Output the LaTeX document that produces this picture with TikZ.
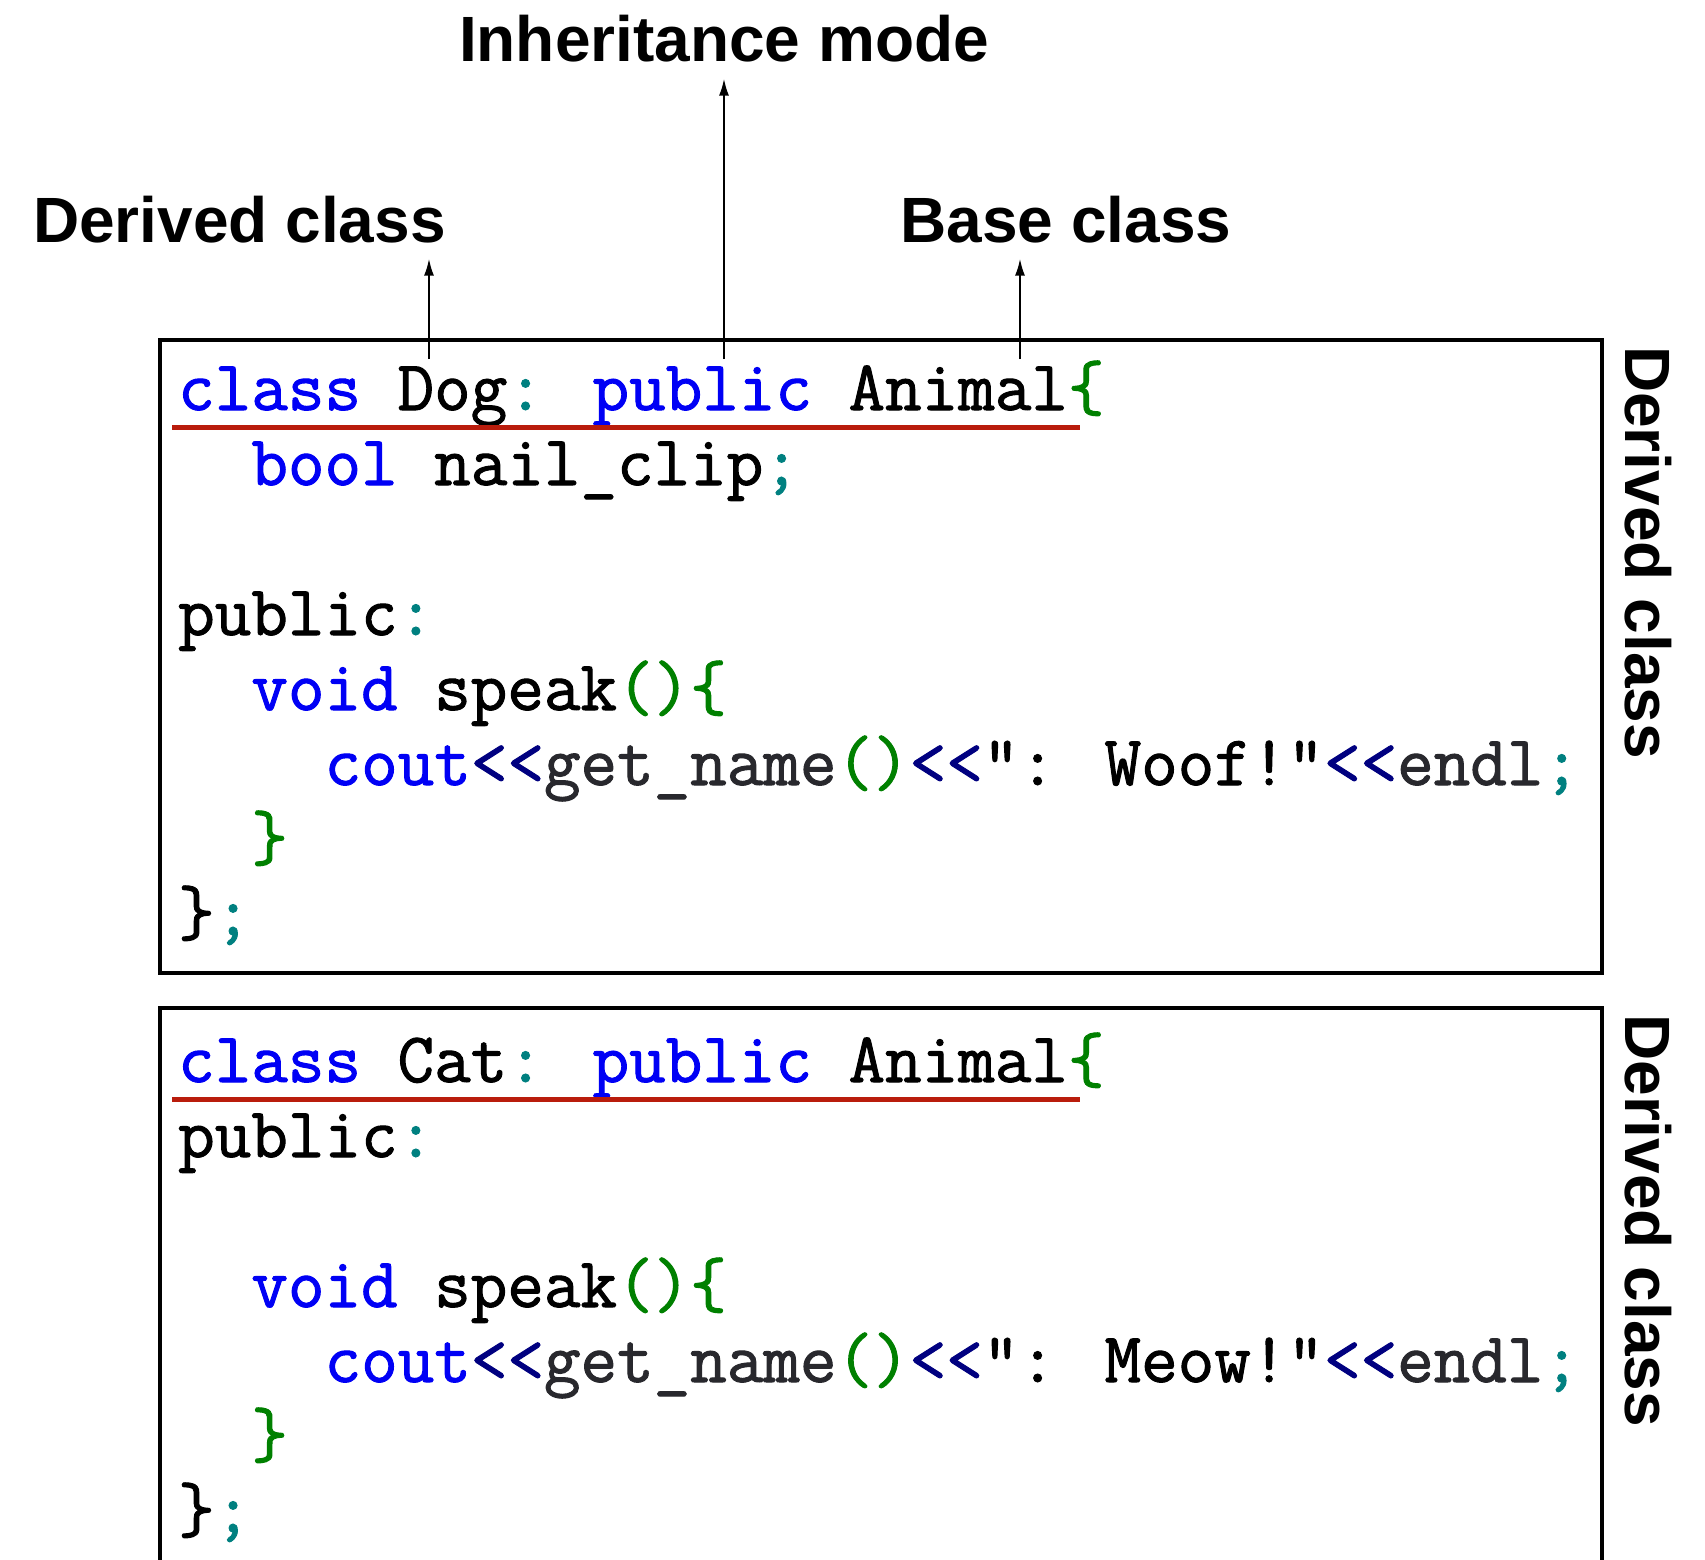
\documentclass[tikz,border=0pt]{standalone}
\usepackage{fontspec}
\usetikzlibrary{arrows.meta}
\newfontfamily\lblfont{Liberation Sans}
\newfontfamily\codefont{Latin Modern Mono}[FakeBold=1.4]
\definecolor{kwblue}{RGB}{0,0,245}
\definecolor{punteal}{RGB}{0,128,128}
\definecolor{brgreen}{RGB}{0,128,0}
\definecolor{opnavy}{RGB}{0,0,128}
\definecolor{fngray}{RGB}{40,40,45}
\definecolor{ulred}{RGB}{185,28,12}
\newcommand\cckw[1]{\textcolor{kwblue}{#1}}
\newcommand\ccpu[1]{\textcolor{punteal}{#1}}
\newcommand\ccbr[1]{\textcolor{brgreen}{#1}}
\newcommand\ccop[1]{\textcolor{opnavy}{#1}}
\newcommand\ccfn[1]{\textcolor{fngray}{#1}}
\tikzset{
  lbl/.style={font=\lblfont\bfseries\fontsize{64}{70}\selectfont, inner sep=0pt, outer sep=16pt},
  rlbl/.style={font=\lblfont\bfseries\fontsize{64}{70}\selectfont, inner sep=0pt, rotate=-90, anchor=base west},
  code/.style={font=\codefont\fontsize{71}{75}\selectfont, inner sep=0pt, anchor=base west},
  codebox/.style={draw=black, line width=4pt},
  uline/.style={draw=ulred, line width=5pt},
  arr/.style={draw=black, line width=2pt, -{Latex[length=17pt,width=10pt]}}
}
\begin{document}
\begin{tikzpicture}[x=1pt,y=-1pt]
\useasboundingbox (0,0) rectangle (1705,1560);
\clip (0,0) rectangle (1705,1560);
\fill[white] (0,0) rectangle (1705,1560);
% labels
\node[lbl, anchor=base] (inh) at (724,62) {Inheritance mode};
\node[lbl, anchor=base] (dlab) at (239.5,242) {Derived class};
\node[lbl, anchor=base] (blab) at (1066,242) {Base class};
% boxes
\draw[codebox] (160,340) rectangle (1602,973);
\draw[codebox] (160,1008) rectangle (1602,1640);
% right labels
\node[rlbl] (r1) at (1625,346) {Derived class};
\node[rlbl] (r2) at (1625,1014) {Derived class};
% box 1 code
\node[code] (d1) at (178,410) {\cckw{class} Dog\ccpu{:} \cckw{public} Animal\ccbr{\{}};
\node[code] (d2) at (251.2,485) {\cckw{bool} nail\_clip\ccpu{;}};
\node[code] (d4) at (178,635) {public\ccpu{:}};
\node[code] (d5) at (251.2,710) {\cckw{void} speak\ccbr{()\{}};
\node[code] (d6) at (324.4,785) {\cckw{cout}\ccop{<<}\ccfn{get\_name}\ccbr{()}\ccop{<<}": Woof!"\ccop{<<}\ccfn{endl}\ccpu{;}};
\node[code] (d7) at (251.2,860) {\ccbr{\}}};
\node[code] (d8) at (178,935) {\}\ccpu{;}};
% box 2 code
\node[code] (c1) at (178,1082) {\cckw{class} Cat\ccpu{:} \cckw{public} Animal\ccbr{\{}};
\node[code] (c2) at (178,1157) {public\ccpu{:}};
\node[code] (c4) at (251.2,1307) {\cckw{void} speak\ccbr{()\{}};
\node[code] (c5) at (324.4,1382) {\cckw{cout}\ccop{<<}\ccfn{get\_name}\ccbr{()}\ccop{<<}": Meow!"\ccop{<<}\ccfn{endl}\ccpu{;}};
\node[code] (c6) at (251.2,1457) {\ccbr{\}}};
\node[code] (c7) at (178,1532) {\}\ccpu{;}};
% underlines
\coordinate (u1a) at (172,427);
\coordinate (u1b) at (1080,427);
\coordinate (u2a) at (172,1099);
\coordinate (u2b) at (1080,1099);
\draw[uline] (u1a) -- (u1b);
\draw[uline] (u2a) -- (u2b);
% arrows
\coordinate (ad) at (429,359);
\coordinate (ai) at (724,359);
\coordinate (ab) at (1020,359);
\draw[arr] (ad) -- (ad |- dlab.south);
\draw[arr] (ai) -- (ai |- inh.south);
\draw[arr] (ab) -- (ab |- blab.south);
\end{tikzpicture}
\end{document}
